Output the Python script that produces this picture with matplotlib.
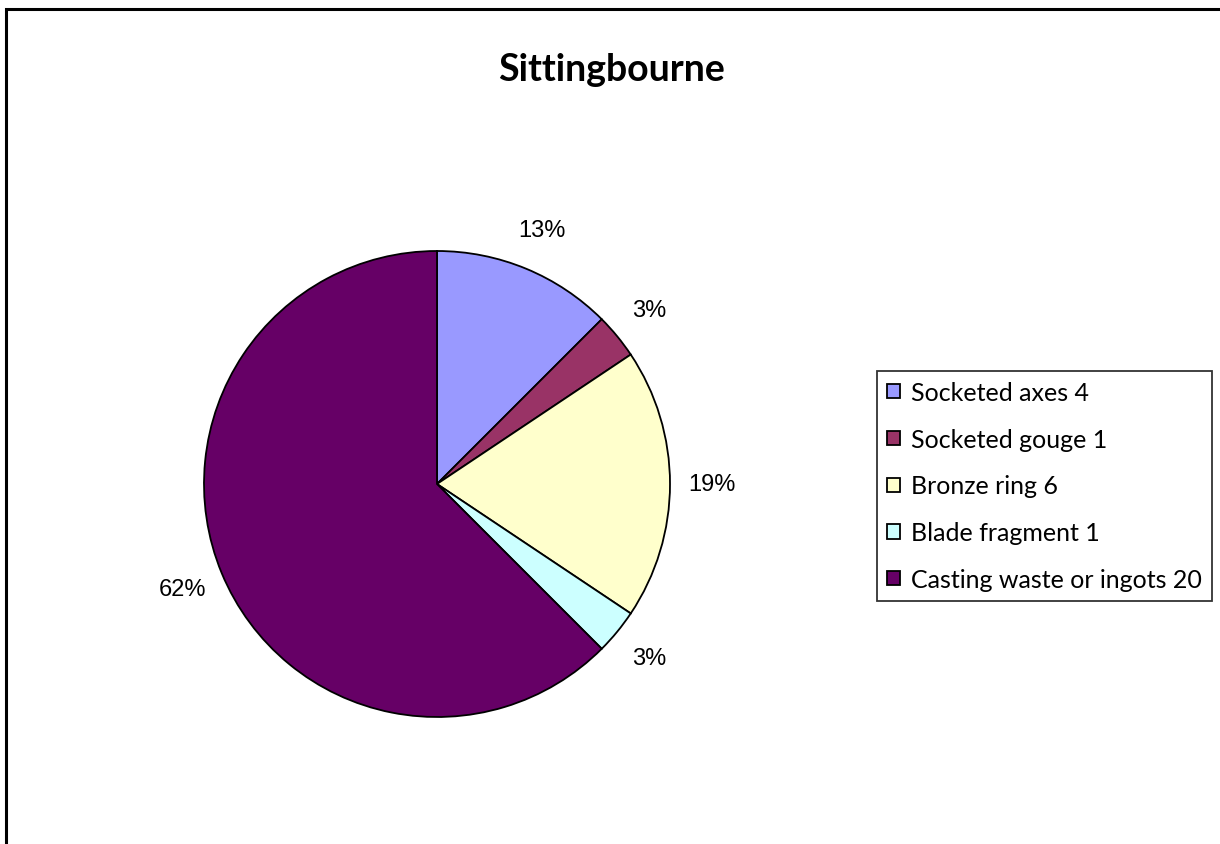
import matplotlib.pyplot as plt
from matplotlib.patches import Patch, Rectangle

# data
labels = ['Socketed axes 4', 'Socketed gouge 1', 'Bronze ring 6',
          'Blade fragment 1', 'Casting waste or ingots 20']
counts = [4, 1, 6, 1, 20]
colors = ['#9999FF', '#993366', '#FFFFCC', '#CCFFFF', '#660066']
title = 'Sittingbourne'

W, H = 1220, 845
fig = plt.figure(figsize=(W / 100, H / 100), dpi=100)

# outer chart frame (runs off the right/bottom edge)
fig.add_artist(Rectangle((6 / W, -0.05), 1.1, 1 - 10 / H + 0.05,
                         transform=fig.transFigure, fill=False,
                         edgecolor='black', linewidth=2.2))

cx, cy, r = 437, 485, 233
ax = fig.add_axes([(cx - r) / W, (H - cy - r) / H, 2 * r / W, 2 * r / H])


def pct(p):
    # excel-style rounding (62.5 shown as 62)
    return '%d%%' % int(p + 0.5) if abs(p - 62.5) > 0.01 else '62%'


total = sum(counts)
wedges, texts = ax.pie(counts, colors=colors, startangle=90, counterclock=False,
                       radius=1, labels=[pct(c / total * 100) for c in counts],
                       labeldistance=1.18,
                       wedgeprops=dict(edgecolor='black', linewidth=1.3),
                       textprops=dict(fontsize=17, family='Liberation Sans'))
for t in texts:
    t.set_horizontalalignment('center')
    t.set_verticalalignment('center')
ax.set_aspect('auto')
ax.set_xlim(-1, 1)
ax.set_ylim(-1, 1)
ax.axis('off')

fig.text(611 / W, 1 - 70 / H, title, ha='center', va='center',
         fontsize=27, fontweight='bold', family='Lato')

handles = [Patch(facecolor=c, edgecolor='black', linewidth=1.3) for c in colors]
leg = fig.legend(handles, labels, loc='upper left',
                 bbox_to_anchor=(877 / W, 1 - 372 / H), borderaxespad=0,
                 frameon=True, fancybox=False, edgecolor='black',
                 prop=dict(family='Lato', size=18),
                 handlelength=0.5, handleheight=0.5, handletextpad=0.45,
                 labelspacing=0.95, borderpad=0.4)
leg.get_frame().set_linewidth(1.3)

fig.savefig('out.png', dpi=100, facecolor='white')
